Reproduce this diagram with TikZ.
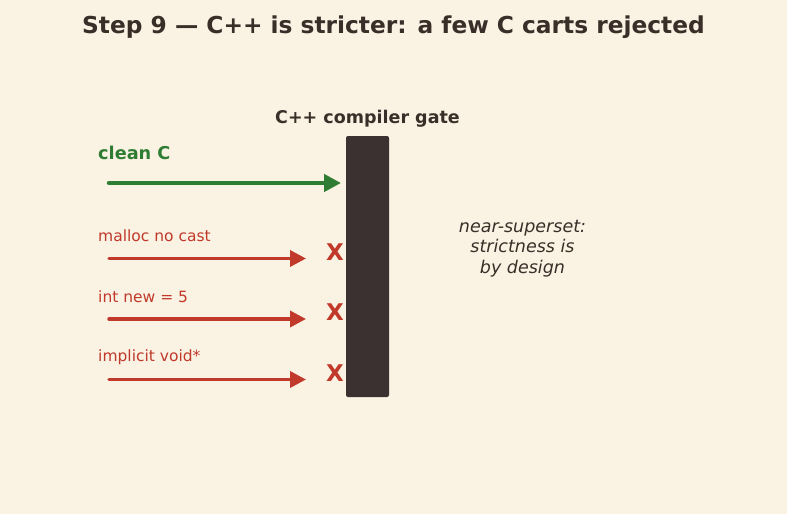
\documentclass[tikz,border=0pt]{standalone}
\usepackage{fontspec}
\setmainfont{DejaVu Sans}
\usetikzlibrary{arrows.meta}
\definecolor{bg}{HTML}{FAF2E3}
\definecolor{ink}{HTML}{3A2E28}
\definecolor{gatec}{HTML}{3B3131}
\definecolor{okc}{HTML}{2E7D32}
\definecolor{badc}{HTML}{C0392B}
\tikzset{
  lbl/.style={anchor=west, inner sep=0pt, font=\fontsize{15.5}{17}\selectfont, text=badc},
  badarrow/.style={draw=badc, line width=3.5pt, line cap=round, -{Triangle[length=16pt,width=16pt]}},
  okarrow/.style={draw=okc, line width=4.5pt, line cap=round, -{Triangle[length=17pt,width=17pt]}},
  xmark/.style={inner sep=0pt, font=\bfseries\fontsize{23}{25}\selectfont, text=badc},
}
\begin{document}
\begin{tikzpicture}[x=1pt,y=-1pt]
\fill[bg] (0,0) rectangle (787,514);
\useasboundingbox (0,0) rectangle (787,514);
\node[inner sep=0pt, font=\bfseries\fontsize{23.3}{26}\selectfont, text=ink] (title) at (393.5,27) {Step 9 — C++ is stricter: a few C carts rejected};
\fill[gatec, rounded corners=2pt] (346,136) rectangle (389,397);
\node[inner sep=0pt, minimum width=43pt, minimum height=261pt] (gate) at (367.5,266.5) {};
\node[inner sep=0pt, font=\bfseries\fontsize{17.5}{19}\selectfont, text=ink] (gatelbl) at (367.5,119) {C++ compiler gate};
\node[anchor=west, inner sep=0pt, font=\bfseries\fontsize{17.7}{19}\selectfont, text=okc] (clean) at (98,153) {clean C};
\coordinate (s0) at (109,183);
\coordinate (e0) at (341,183);
\draw[okarrow] (s0) -- (e0);
\node[lbl] (l1) at (98,236) {malloc no cast};
\node[lbl] (l2) at (98,296.5) {int new = 5};
\node[lbl] (l3) at (98,357) {implicit void*};
\coordinate (s1) at (109,258.5);
\coordinate (e1) at (306,258.5);
\coordinate (s2) at (109,319);
\coordinate (e2) at (306,319);
\coordinate (s3) at (109,379.5);
\coordinate (e3) at (306,379.5);
\draw[badarrow] (s1) -- (e1);
\draw[badarrow] (s2) -- (e2);
\draw[badarrow] (s3) -- (e3);
\node[xmark] (x1) at (335,252) {X};
\node[xmark] (x2) at (335,312) {X};
\node[xmark] (x3) at (335,373) {X};
\node[inner sep=0pt, align=center, font=\itshape\fontsize{17.5}{20.5}\selectfont, text=ink] (note) at (522.5,248.5) {near-superset:\\strictness is\\by design};
\end{tikzpicture}
\end{document}
